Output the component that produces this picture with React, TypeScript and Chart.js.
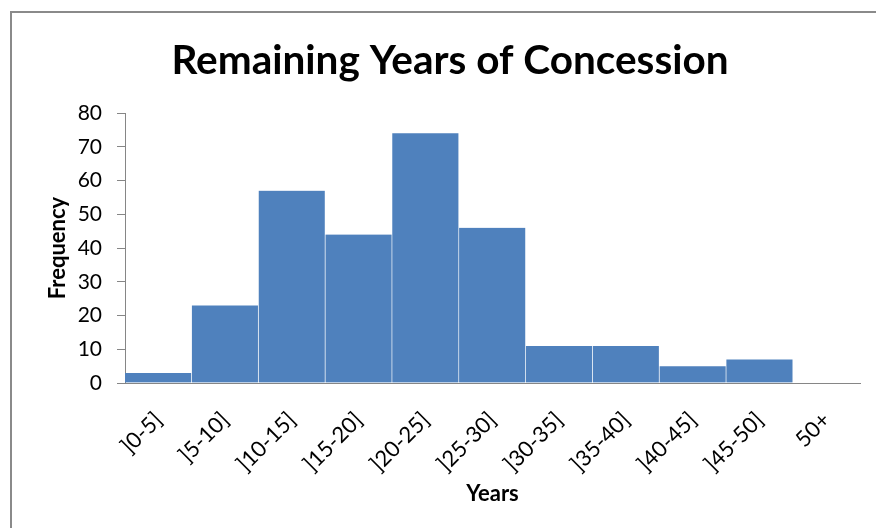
import React, { useEffect, useRef } from "react";
import { Chart, registerables } from "chart.js";

Chart.register(...registerables);

const categories = ["]0-5]", "]5-10]", "]10-15]", "]15-20]", "]20-25]", "]25-30]", "]30-35]", "]35-40]", "]40-45]", "]45-50]", "50+"];
const frequency = [3, 23, 57, 44, 74, 46, 11, 11, 5, 7, 0];
const titleText = "Remaining Years of Concession";
const xTitle = "Years";
const yTitle = "Frequency";

const FONT = "Lato, 'Open Sans', sans-serif";
const AXIS_GRAY = "#868686";

const framePlugin = {
  id: "frame",
  beforeDraw(chart: any) {
    const ctx = chart.ctx;
    ctx.save();
    ctx.fillStyle = "#ffffff";
    ctx.fillRect(0, 0, chart.width, chart.height);
    ctx.strokeStyle = "#8a8a8a";
    ctx.lineWidth = 2;
    ctx.strokeRect(11, 12, 2000, 2000);
    ctx.restore();
  },
};

export default function App() {
  const ref = useRef<HTMLCanvasElement>(null);
  useEffect(() => {
    const chart = new Chart(ref.current!, {
      type: "bar",
      data: {
        labels: categories,
        datasets: [
          {
            label: "Frequency",
            data: frequency,
            backgroundColor: "#4F81BD",
            borderColor: "#ffffff",
            borderWidth: { left: 0, right: 1, top: 0, bottom: 0 },
            borderSkipped: false,
            categoryPercentage: 1,
            barPercentage: 1,
          },
        ],
      },
      options: {
        responsive: false,
        animation: false,
        layout: { padding: { left: 40, right: 16, top: 0, bottom: 0 } },
        plugins: {
          legend: { display: false },
          tooltip: { enabled: false },
          title: {
            display: true,
            text: titleText,
            color: "#000000",
            font: { family: FONT, size: 40.5, weight: "bold", lineHeight: 1.2 },
            padding: { top: 36.7, bottom: 27.7 },
          },
        },
        scales: {
          x: {
            grid: { display: false, drawTicks: false },
            border: { display: true, color: AXIS_GRAY, width: 1 },
            ticks: {
              color: "#000000",
              font: { family: FONT, size: 22 },
              minRotation: 45,
              maxRotation: 45,
              padding: 24,
              autoSkip: false,
            },
            title: {
              display: true,
              text: xTitle,
              color: "#000000",
              font: { family: FONT, size: 22, weight: "bold", lineHeight: 1.2 },
              padding: { top: 0, bottom: 21 },
            },
            afterFit(scale: any) {
              scale.height = 145;
            },
          },
          y: {
            min: 0,
            max: 80,
            ticks: {
              stepSize: 10,
              color: "#000000",
              font: { family: FONT, size: 21 },
              padding: 15,
            },
            grid: {
              drawOnChartArea: false,
              drawTicks: true,
              tickLength: 8,
              color: AXIS_GRAY,
            },
            border: { display: true, color: AXIS_GRAY, width: 1 },
            title: {
              display: true,
              text: yTitle,
              color: "#000000",
              font: { family: FONT, size: 22, weight: "bold", lineHeight: 1.2 },
              padding: { top: 4.3, bottom: 0 },
            },
            afterFit(scale: any) {
              scale.width = 85;
            },
          },
        },
      },
      plugins: [framePlugin],
    });
    return () => chart.destroy();
  }, []);
  return (
    <div style={{ position: "fixed", left: 0, top: 0, width: 876, height: 528, background: "#fff" }}>
      <canvas ref={ref} width={876} height={528} />
    </div>
  );
}
